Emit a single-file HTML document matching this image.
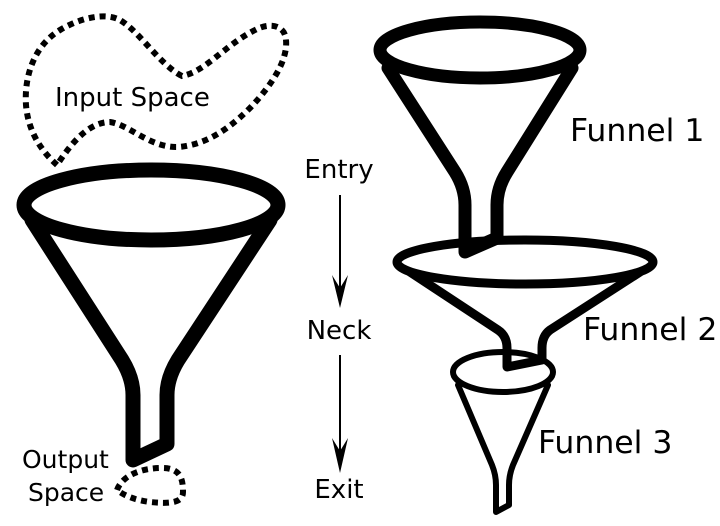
<!DOCTYPE html>
<html><head><meta charset="utf-8"><style>
html,body{margin:0;padding:0;background:#fff;}
svg{display:block;}
text{font-family:"DejaVu Sans","Liberation Sans",sans-serif;fill:#000;}
</style></head><body>
<svg width="720" height="526" viewBox="0 0 720 526">
<!-- Input space blob -->
<path d="M57,165 C40,150 28,130 26,105 C24,75 35,45 60,30 C80,18 105,12 120,20 C140,32 160,65 182,76 C205,72 225,45 255,30 C270,22 285,25 286,40 C288,60 272,85 250,108 C228,130 205,145 178,147 C150,148 130,125 110,122 C88,122 70,145 57,165 Z" fill="none" stroke="#000" stroke-width="6" stroke-dasharray="6 5"/>
<text x="55" y="106" font-size="26">Input Space</text>
<!-- Left big funnel -->
<g fill="none" stroke="#000" stroke-linejoin="round" stroke-linecap="round">
<path d="M32,220 L122,360 Q133,378 133,395 L133,460 L167,444 L167,395 Q167,378 178,360 L270,220" stroke-width="15"/>
<ellipse cx="151" cy="205" rx="127" ry="35" fill="#fff" stroke-width="15"/>
</g>
<!-- Output space blob -->
<path d="M117,490 C122,476 140,468 162,468 C180,468 183,478 183,492 C183,503 170,504 150,502 C135,500 125,496 117,490 Z" fill="none" stroke="#000" stroke-width="6" stroke-dasharray="6 5"/>
<text x="22" y="468" font-size="25">Output</text>
<text x="28" y="501" font-size="25">Space</text>
<!-- Middle flow -->
<text x="339" y="178" font-size="26" text-anchor="middle">Entry</text>
<line x1="340" y1="195" x2="340" y2="300" stroke="#000" stroke-width="2"/>
<path d="M332,275 L340,308 L348,275 L340,288 Z" fill="#000"/>
<text x="339" y="339" font-size="26" text-anchor="middle">Neck</text>
<line x1="340" y1="355" x2="340" y2="465" stroke="#000" stroke-width="2"/>
<path d="M332,438 L340,473 L348,438 L340,451 Z" fill="#000"/>
<text x="339" y="498" font-size="26" text-anchor="middle">Exit</text>
<!-- Funnel 3 -->
<g fill="none" stroke="#000" stroke-linejoin="round" stroke-linecap="round">
<path d="M458,385 L492,465 Q496,475 496,485 L496,512 L509,505 L509,485 Q509,475 513,465 L548,385" stroke-width="6"/>
<ellipse cx="503" cy="372" rx="50" ry="20" fill="#fff" stroke-width="6"/>
</g>
<!-- Funnel 2 -->
<g fill="none" stroke="#000" stroke-linejoin="round" stroke-linecap="round">
<path d="M410,272 L498,330 Q507,336 507,348 L507,367 L542,360 L542,348 Q542,336 550,330 L640,272" stroke-width="9"/>
<ellipse cx="525" cy="262" rx="128" ry="22" fill="#fff" stroke-width="9"/>
</g>
<!-- Funnel 1 -->
<g fill="none" stroke="#000" stroke-linejoin="round" stroke-linecap="round">
<path d="M388,68 L455,172 Q465,188 465,205 L465,252 L497,238 L497,205 Q497,188 507,172 L572,68" stroke-width="13"/>
<ellipse cx="480" cy="50" rx="100" ry="28" fill="#fff" stroke-width="13"/>
</g>
<text x="570" y="141" font-size="31.5">Funnel 1</text>
<text x="583" y="340" font-size="31.5">Funnel 2</text>
<text x="538" y="453" font-size="31.5">Funnel 3</text>
</svg>
</body></html>
